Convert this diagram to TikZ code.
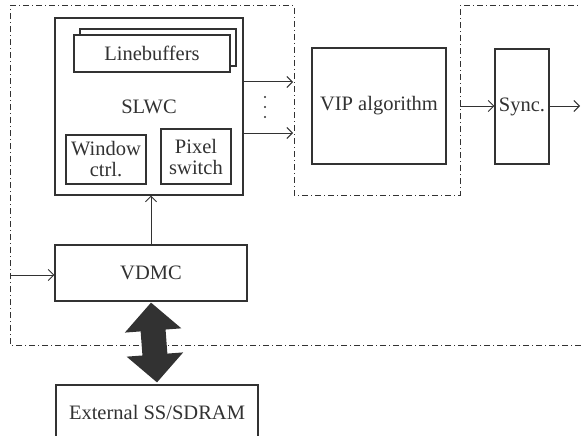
\documentclass[tikz,border=0pt]{standalone}
\usepackage{fontspec}
\setmainfont{Liberation Serif}
\usepackage{tikz}
\usetikzlibrary{arrows.meta}

\definecolor{linegray}{RGB}{50,50,50}
\tikzset{
  blk/.style={draw=linegray, text=linegray, line width=1.1pt, fill=white,
    inner sep=0pt, align=center, font=\fontsize{20.5}{21}\selectfont},
  sig/.style={draw=linegray, line width=1pt,
    -{Straight Barb[length=5.5pt,width=11pt]}},
  region/.style={draw=linegray, line width=1pt,
    dash pattern=on 6pt off 3pt on 1pt off 3pt},
  memlink/.style={draw=linegray, line width=25pt,
    {Triangle[length=28pt,width=55pt]}-{Triangle[length=28pt,width=55pt]}}
}

\begin{document}
\begin{tikzpicture}[x=1pt,y=-1pt]
  \clip (0,0) rectangle (581,436);

  % dash-dotted regions
  \draw[region]
    (581,345) -- (10,345) -- (10,6) -- (294,6) -- (294,195)
    -- (460,195) -- (460,6) -- (581,6);

  % sliding window controller
  \node[blk, minimum width=188pt, minimum height=177pt] (slwc)
    at (149,106.5) {SLWC};
  \node[blk, minimum width=156pt, minimum height=37pt] (lbback)
    at (158,47.5) {};
  \node[blk, minimum width=156pt, minimum height=37pt] (lbuf)
    at (152,53.5) {Linebuffers};
  \node[blk, minimum width=80pt, minimum height=49pt] (winctrl)
    at (106,159.5) {Window\\ctrl.};
  \node[blk, minimum width=70pt, minimum height=55pt] (pixsw)
    at (196,156.5) {Pixel\\switch};

  \node[blk, minimum width=134pt, minimum height=116pt] (vip)
    at (379,106) {VIP algorithm};
  \node[blk, minimum width=54pt, minimum height=115pt] (sync)
    at (522,106.5) {Sync.};
  \node[blk, minimum width=192pt, minimum height=56pt] (vdmc)
    at (151,273) {VDMC};
  \node[blk, minimum width=202pt, minimum height=54pt] (ext)
    at (157,412) {External SS/SDRAM};

  \coordinate (out1) at (293,82);
  \coordinate (out2) at (293,133);
  \coordinate (vin) at (10,275);
  \coordinate (syncin) at (460,106);
  \coordinate (syncout) at (580,106);

  % window outputs
  \draw[sig]
    (slwc.east |- out1)
    --
    (out1);
  \draw[sig]
    (slwc.east |- out2)
    --
    (out2);
  \fill[linegray] (265,97) circle (1.2pt);
  \fill[linegray] (265,107) circle (1.2pt);
  \fill[linegray] (265,117) circle (1.2pt);

  \draw[sig]
    (vdmc.north)
    --
    (vdmc.north |- slwc.south);
  \draw[sig]
    (vin)
    --
    (vdmc.west |- vin);
  \draw[sig]
    (syncin)
    --
    (sync.west |- syncin);
  \draw[sig]
    (sync.east |- syncout)
    --
    (syncout);

  % memory bus
  \draw[memlink]
    ([yshift=-1pt]vdmc.south)
    --
    ([yshift=2pt]ext.north);
\end{tikzpicture}
\end{document}
